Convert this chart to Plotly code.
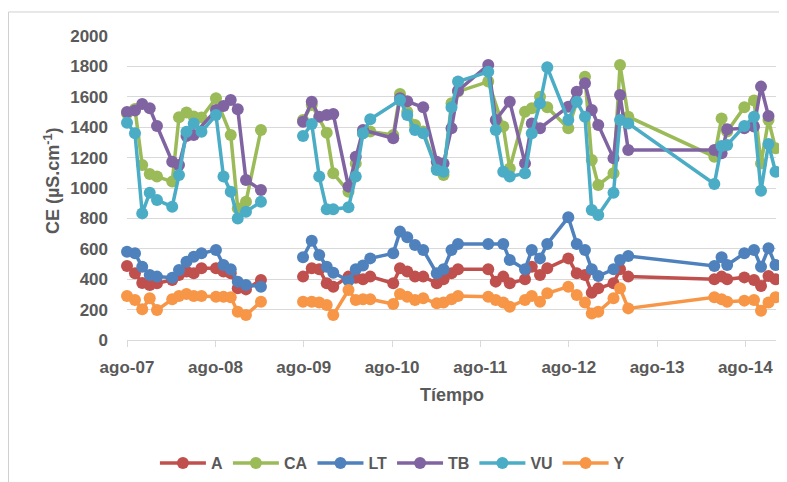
import plotly.graph_objects as go

# Sampling dates (one shared list; None in a series = no sample at that date)
dates = [
    "2007-08-01", "2007-09-03", "2007-10-03", "2007-11-03", "2007-12-03",
    "2008-02-04", "2008-03-03", "2008-04-03", "2008-05-03", "2008-06-04",
    "2008-08-03", "2008-09-03", "2008-10-03", "2008-11-01", "2008-12-05",
    "2009-02-05",
    "2009-07-29", "2009-09-03", "2009-10-04", "2009-11-04", "2009-12-01",
    "2010-02-02", "2010-03-04", "2010-04-03", "2010-05-03", "2010-08-06",
    "2010-09-03", "2010-10-03", "2010-11-04", "2010-12-08", "2011-02-02",
    "2011-03-02", "2011-04-04", "2011-05-01",
    "2011-09-03", "2011-10-04", "2011-11-04", "2011-12-01", "2012-02-02",
    "2012-03-01", "2012-04-04", "2012-05-04", "2012-07-30", "2012-09-03",
    "2012-10-07", "2012-11-04", "2012-12-01", "2013-02-02", "2013-03-01",
    "2013-04-04",
    "2014-03-26", "2014-04-25", "2014-05-18", "2014-07-28", "2014-09-06",
    "2014-10-05", "2014-11-05", "2014-12-04",
]
GAP_INDEX = 16  # sampling interrupted between Feb 2009 and Jul 2009

A = [487, 439, 375, 362, 373, 395, 428, 450, 439, 472, 472, 450, 439, 340, 333, 395,
     417, 472, 465, 373, 351, 417, 410, 399, 417, 373, 472, 450, 417, 417, 373, 400, 439, 465,
     465, 384, 417, 373, 399, 482, 428, 472, 537, 439, 428, 311, 340, 373, 465, 417,
     399, 417, 399, 412, 395, 355, 421, 399]
CA = [1490, 1520, 1151, 1092, 1075, 1042, 1465, 1496, 1470, 1463, 1590, None, 1349, 866, 910, 1382,
      1447, 1546, None, 1364, 1097, 976, 1162, 1360, 1371, 1349, 1618, 1502, 1415, 1371, 1129, 1086, 1557, 1634,
      1700, None, 1404, 1129, 1502, 1524, 1601, 1531, 1393, None, 1732, 1184, 1020, 1097, 1809, 1469,
      1206, 1458, 1371, 1531, 1575, 1162, 1447, 1261]
LT = [581, 570, 482, 428, 417, 410, 461, 515, 548, 570, 592, 493, 465, 384, 362, 351,
      544, 653, 559, 482, 443, 390, 465, 490, 537, 570, 713, 676, 625, 592, 439, 465, 592, 632,
      632, None, 632, 526, 465, 592, 537, 632, 807, 632, 592, 465, 421, 465, 526, 553,
      487, 544, 493, 570, 592, 482, 603, 493]
TB = [1500, 1510, 1553, 1524, 1408, 1173, 1151, 1342, 1349, None, 1513, 1540, 1579, 1518, 1053, 987,
      1436, 1568, 1469, 1480, 1487, 1009, 1206, 1382, None, 1327, 1590, 1570, None, 1531, 1173, 1162, 1393, 1640,
      1809, 1447, None, 1568, 1162, 1425, 1393, None, 1535, 1634, 1689, 1513, 1415, 1195, 1612, 1250,
      1250, 1228, 1386, 1393, 1404, 1667, 1474, None]
VU = [1430, 1360, 833, 969, 921, 877, 1085, 1370, 1425, 1370, 1480, 1075, 976, 800, 844, 910,
      1342, 1421, 1075, 860, 860, 873, 1075, 1360, 1452, None, 1579, 1480, 1382, 1360, 1118, 1107, 1531, 1700,
      1765, 1382, 1107, 1075, 1097, 1360, 1557, 1794, 1447, 1568, 1469, 855, 822, 969, 1447, 1425,
      1026, 1276, 1283, 1408, 1469, 982, 1289, 1107]
Y = [289, 263, 202, 274, 197, 268, 289, 303, 289, 289, 285, 285, 281, 186, 164, 252,
     252, 252, 246, 230, 164, 329, 263, 268, 268, 237, 303, 285, 263, 274, 241, 246, 268, 289,
     285, 263, 246, 219, 263, 289, 252, 307, 351, 296, 246, 175, 186, 274, 340, 208,
     281, 268, 252, 259, 263, 193, 246, 281]

series_names = ["A", "CA", "LT", "TB", "VU", "Y"]
series_values = [A, CA, LT, TB, VU, Y]
series_colors = ["#C0504D", "#9BBB59", "#4F81BD", "#8064A2", "#4BACC6", "#F79646"]

y_ticks = list(range(0, 2001, 200))

FONT = "Liberation Sans"
GRAY = "#595959"

fig = go.Figure()
for name, vals, color in zip(series_names, series_values, series_colors):
    for k, (lo, hi) in enumerate([(0, GAP_INDEX), (GAP_INDEX, len(dates))]):
        fig.add_trace(go.Scatter(
            x=dates[lo:hi], y=vals[lo:hi], mode="lines+markers",
            name=name, legendgroup=name, showlegend=(k == 0),
            connectgaps=True, cliponaxis=False,
            line=dict(color=color, width=3.5),
            marker=dict(color=color, size=12),
        ))

fig.update_layout(
    width=779, height=474,
    margin=dict(l=119, r=11, t=28, b=142, autoexpand=False),
    paper_bgcolor="white", plot_bgcolor="white",
    font=dict(family=FONT, size=16, color=GRAY),
    showlegend=True,
    legend=dict(orientation="h", x=0.043, xanchor="left", y=-0.405, yanchor="middle",
                itemwidth=46,
                font=dict(family=FONT, size=16, color=GRAY, weight="bold"),
                traceorder="normal"),
    xaxis=dict(
        type="date", range=["2007-08-01", "2014-12-06"],
        tick0="2007-08-01", dtick="M12", tickformat="ago-%y",
        showgrid=False, showline=True, linecolor="#d9d9d9", linewidth=1,
        ticks="outside", ticklen=6, tickcolor="#d9d9d9",
        ticklabelstandoff=6,
        tickfont=dict(family=FONT, size=17, color=GRAY, weight="bold"),
        zeroline=False, automargin=False,
    ),
    yaxis=dict(
        range=[0, 2000], tickvals=y_ticks,
        showgrid=True, gridcolor="#d9d9d9", gridwidth=1,
        showline=False, zeroline=False, ticks="",
        ticklabelstandoff=18,
        tickfont=dict(family=FONT, size=17, color=GRAY, weight="bold"),
        automargin=False,
    ),
    annotations=[
        dict(text="<b>CE (µS.cm<sup>-1</sup>)</b>", xref="paper", yref="paper",
             x=-0.1156, y=0.526, textangle=-90, showarrow=False,
             xanchor="center", yanchor="middle",
             font=dict(family=FONT, size=18, color=GRAY)),
        dict(text="<b>Tíempo</b>", xref="paper", yref="paper",
             x=0.5, y=-0.181, showarrow=False, xanchor="center", yanchor="middle",
             font=dict(family=FONT, size=18, color=GRAY)),
    ],
    shapes=[
        dict(type="line", xref="paper", yref="paper", x0=-0.1826, x1=-0.1826,
             y0=1.079, y1=-0.6, line=dict(color="#d0d0d0", width=1)),
        dict(type="line", xref="paper", yref="paper", x0=-0.1826, x1=1.1,
             y0=1.079, y1=1.079, line=dict(color="#d0d0d0", width=1)),
    ],
)

fig.write_html("out.html")
